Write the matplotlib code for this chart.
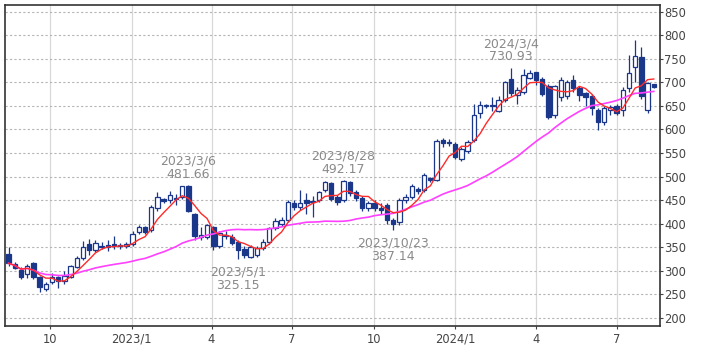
import numpy as np
import pandas as pd
import matplotlib
matplotlib.use("Agg")
import matplotlib.pyplot as plt
import matplotlib.dates as mdates

# weekly candles, Monday dates
start = "2022-08-15"
opens = [335, 314, 302, 293, 316, 286, 262, 277, 287, 279, 288, 309, 327, 356, 344, 353, 354, 356, 355, 352,
         356, 382, 392, 386, 433, 452, 450, 455, 456, 480, 420, 372, 372, 393, 352, 377, 372, 361, 347, 330,
         333, 349, 362, 390, 400, 408, 445, 435, 450, 448, 450, 471, 486, 456, 450, 488, 468, 455, 433, 443,
         433, 440, 408, 403, 450, 456, 474, 472, 496, 492, 578, 572, 570, 538, 555, 577, 634, 650, 650, 640,
         662, 708, 673, 679, 710, 721, 708, 692, 631, 668, 672, 704, 687, 677, 672, 641, 616, 641, 649, 641,
         687, 732, 753, 641, 696]
highs = [350, 318, 308, 314, 319, 289, 277, 296, 290, 300, 312, 332, 364, 368, 366, 362, 366, 374, 360, 362,
         384, 398, 396, 440, 467, 455, 469, 462, 481, 481.66, 422, 392, 400, 396, 385, 385, 378, 366, 352, 355,
         352, 368, 394, 412, 415, 450, 450, 471, 465, 458, 470, 490, 488, 460, 492.17, 490, 472, 458, 448, 450,
         443, 443, 412, 455, 462, 485, 478, 508, 500, 580, 582, 580, 574, 562, 578, 655, 660, 655, 668, 670,
         703, 730.93, 690, 728, 727, 722, 712, 697, 695, 712, 705, 716, 692, 680, 676, 645, 650, 652, 653, 690,
         757, 789, 774, 700, 697]
lows = [310, 303, 282, 284, 283, 256, 257, 273, 264, 273, 284, 305, 322, 334, 340, 347, 342, 346, 347, 348,
        352, 378, 378, 383, 428, 443, 445, 440, 452, 425, 366, 365, 368, 344, 348, 368, 354, 325.15, 328, 327,
        330, 345, 358, 386, 396, 404, 430, 430, 420, 414, 446, 467, 448, 440, 446, 458, 448, 428, 428, 428,
        420, 400, 387.14, 398, 445, 452, 462, 468, 488, 490, 562, 565, 538, 533, 550, 574, 625, 645, 640, 636,
        658, 670, 655, 676, 706, 695, 670, 622, 625, 660, 665, 680, 660, 650, 630, 598, 610, 630, 630, 628,
        680, 700, 665, 635, 688]
closes = [316, 307, 288, 310, 287, 266, 272, 287, 279, 290, 310, 327, 350, 344, 359, 350, 351, 353, 352, 356,
          378, 393, 383, 436, 456, 449, 460, 452, 480, 428, 373, 377, 397, 352, 380, 373, 360, 344, 333, 350,
          348, 362, 390, 405, 407, 446, 435, 445, 444, 446, 467, 488, 453, 446, 490, 466, 455, 433, 445, 434,
          430, 408, 400, 450, 456, 481, 470, 503, 492, 576, 572, 574, 542, 558, 573, 630, 652, 652, 651, 662,
          700, 677, 683, 715, 720, 705, 676, 627, 692, 704, 700, 688, 673, 669, 645, 616, 645, 648, 634, 683,
          720, 755, 672, 698, 690]

# labelled highs / lows: (date, value, 'high' or 'low')
marks = [("2023-03-06", 481.66, "high"), ("2023-05-01", 325.15, "low"),
         ("2023-08-28", 492.17, "high"), ("2023-10-23", 387.14, "low"),
         ("2024-03-04", 730.93, "high")]

xtick_dates = ["2022-10-01", "2023-01-01", "2023-04-01", "2023-07-01",
               "2023-10-01", "2024-01-01", "2024-04-01", "2024-07-01"]
xtick_labels = ["10", "2023/1", "4", "7", "10", "2024/1", "4", "7"]
yticks = list(range(200, 851, 50))

df = pd.DataFrame({"open": opens, "high": highs, "low": lows, "close": closes},
                  index=pd.date_range(start, periods=len(closes), freq="W-MON"))
ma_short = df["close"].rolling(5, min_periods=1).mean()
ma_long = df["close"].rolling(26, min_periods=1).mean()

NAVY = "#1a378a"
x = mdates.date2num(df.index.to_pydatetime())

fig = plt.figure(figsize=(7.09, 3.54), dpi=100)
ax = fig.add_axes([5 / 709, 1 - 326 / 354, 655 / 709, 321 / 354])

up = df["close"] >= df["open"]
ax.vlines(x, df["low"], df["high"], color=NAVY, lw=0.9, zorder=3)
body_lo = np.minimum(df["open"], df["close"])
body_h = np.maximum((df["close"] - df["open"]).abs(), 1.0)
ax.bar(x[up], body_h[up], bottom=body_lo[up], width=5.0, facecolor="white",
       edgecolor=NAVY, lw=0.9, zorder=4)
ax.bar(x[~up], body_h[~up], bottom=body_lo[~up], width=5.0, facecolor=NAVY,
       edgecolor=NAVY, lw=0.9, zorder=4)

ax.plot(x, ma_long, color="#ff40ff", lw=1.2, zorder=5)
ax.plot(x, ma_short, color="#ff2a2a", lw=1.0, zorder=6)

for d, v, kind in marks:
    dx = mdates.date2num(pd.Timestamp(d))
    lab = d.replace("-0", "-").replace("-", "/")
    if kind == "high":
        offs = [(lab, 17.3), ("%.2f" % v, 8.0)]
    else:
        offs = [(lab, -9.5), ("%.2f" % v, -19.3)]
    for txt, dy in offs:
        ax.annotate(txt, (dx, v), xytext=(0, dy), textcoords="offset points",
                    ha="center", va="center", fontsize=9, color="#8a8a8a", zorder=7)

ax.set_xlim(mdates.date2num(pd.Timestamp("2022-08-11")), mdates.date2num(pd.Timestamp("2024-08-19")))
ax.set_ylim(183, 864)

ax.set_xticks(mdates.date2num(pd.to_datetime(xtick_dates).to_pydatetime()))
ax.set_xticklabels(xtick_labels)
ax.set_yticks(yticks)
ax.yaxis.tick_right()
ax.tick_params(axis="both", labelsize=8.3, colors="#444444", length=2, width=0.8)
ax.tick_params(axis="y", pad=1)
ax.tick_params(axis="x", pad=3)

ax.grid(axis="x", color="#d8d8d8", lw=0.9, ls="-", zorder=0)
ax.grid(axis="y", color="#b5b5b5", lw=0.8, ls=(0, (2, 2)), zorder=0)
ax.set_axisbelow(True)
for s in ax.spines.values():
    s.set_color("#333333")
    s.set_linewidth(1.2)

fig.savefig("out.png", dpi=100, facecolor="white")
